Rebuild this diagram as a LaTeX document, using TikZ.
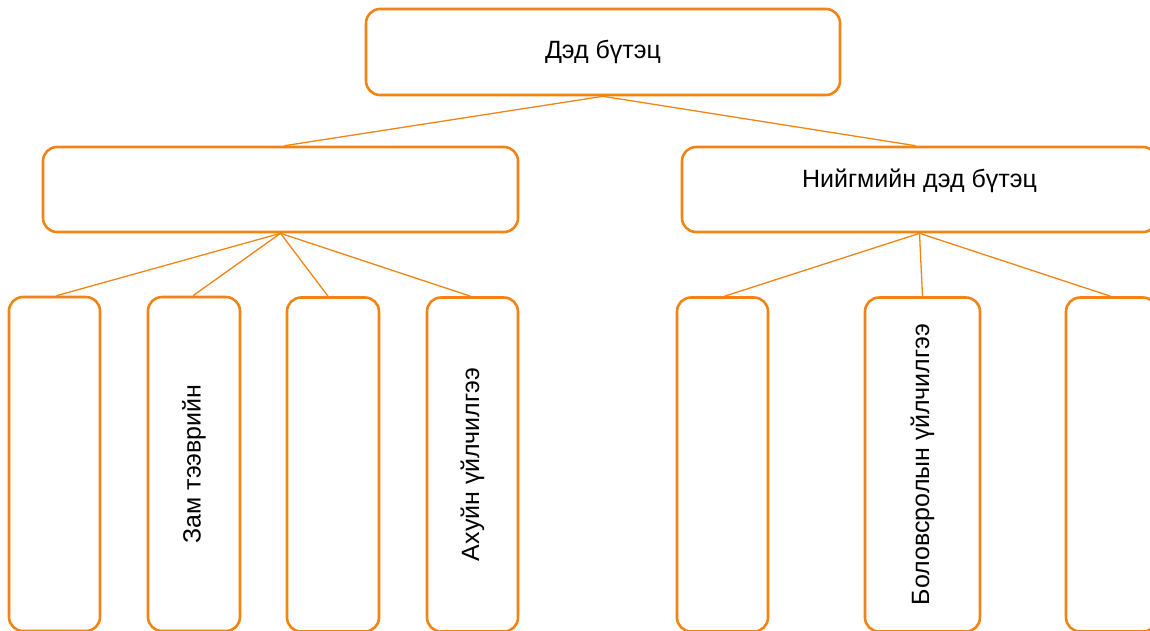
\documentclass[tikz,border=0pt]{standalone}
\usepackage{fontspec}
\setmainfont{Liberation Sans}
\definecolor{orng}{RGB}{242,132,20}
\begin{document}
\begin{tikzpicture}[x=1pt,y=-1pt,
  box/.style={draw=orng, line width=2.6pt, rounded corners=14pt, fill=white, inner sep=0pt, font=\fontsize{25}{30}\selectfont},
  link/.style={draw=orng, line width=1.3pt}]
\useasboundingbox (0,0) rectangle (1150,630);
\clip (0,0) rectangle (1150,630);
\node[box, minimum width=474pt, minimum height=86pt] (top) at (603,52) {Дэд бүтэц};
\node[box, minimum width=475pt, minimum height=85pt] (ml) at (280.5,189.5) {};
\node[box, minimum width=475pt, minimum height=85pt,
  label={[font=\fontsize{25}{30}\selectfont, yshift=9pt]center:Нийгмийн дэд бүтэц}] (mr) at (919.5,189.5) {};
\node[box, minimum width=91pt, minimum height=334pt] (b1) at (54.5,464) {};
\node[box, minimum width=92pt, minimum height=334pt] (b2) at (194,464) {\rotatebox{90}{Зам тээврийн}};
\node[box, minimum width=92pt, minimum height=334pt] (b3) at (333,464.5) {};
\node[box, minimum width=91pt, minimum height=334pt] (b4) at (472.5,464.5) {\rotatebox{90}{Ахуйн үйлчилгээ}};
\node[box, minimum width=91pt, minimum height=334pt] (b5) at (722.5,464.5) {};
\node[box, minimum width=115pt, minimum height=334pt] (b6) at (922.5,464.5) {\rotatebox{90}{Боловсролын үйлчилгээ}};
\node[box, minimum width=91pt, minimum height=334pt] (b7) at (1111.5,464.5) {};
\draw[link] (top.south) -- ([xshift=4pt]ml.north);
\draw[link] (top.south) -- ([xshift=-4pt]mr.north);
\draw[link] (ml.south) -- ([xshift=2pt]b1.north);
\draw[link] (ml.south) -- ([xshift=-1pt]b2.north);
\draw[link] (ml.south) -- ([xshift=-5pt]b3.north);
\draw[link] (ml.south) -- ([xshift=-2pt]b4.north);
\draw[link] (mr.south) -- ([xshift=2pt]b5.north);
\draw[link] (mr.south) -- (b6.north);
\draw[link] (mr.south) -- ([xshift=-1pt]b7.north);
\end{tikzpicture}
\end{document}
